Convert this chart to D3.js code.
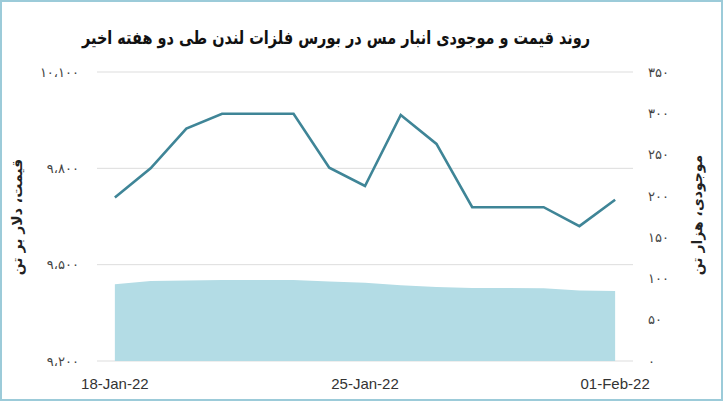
<!DOCTYPE html>
<html>
<head>
<meta charset="utf-8">
<script src="https://cdn.jsdelivr.net/npm/d3@7"></script>
<style>
  body { margin:0; background:#fff; }
  svg { display:block; }
</style>
</head>
<body>
<div id="chart"></div>
<script>
// daily points, 18 Jan -> 01 Feb 2022
const dates = ["18-Jan-22","19-Jan-22","20-Jan-22","21-Jan-22","22-Jan-22","23-Jan-22","24-Jan-22",
  "25-Jan-22","26-Jan-22","27-Jan-22","28-Jan-22","29-Jan-22","30-Jan-22","31-Jan-22","01-Feb-22"];
const shownDates = ["18-Jan-22","25-Jan-22","01-Feb-22"];
// copper price, USD per tonne (left axis)
const price = [9709,9800,9924,9970,9970,9970,9802,9745,9966,9876,9679,9679,9679,9620,9702];
// LME copper stocks, thousand tonnes (right axis)
const stock = [93,97,97.4,98.2,98.2,98.2,96.2,94.9,91.7,89.6,88.4,88.4,88,85.5,84.7];
const priceTicks = [9200,9500,9800,10100];
const stockTicks = [0,50,100,150,200,250,300,350];

const title = "روند قیمت و موجودی انبار مس در بورس فلزات لندن طی دو هفته اخیر";
const leftTitle = "قیمت، دلار بر تن";
const rightTitle = "موجودی، هزار تن";

const W = 724, H = 402;
const fa = "DejaVu Sans";

function toFa(n){
  // persian digits, arabic comma as thousands separator
  return d3.format(",")(n).replace(/,/g,"،").replace(/\d/g, d => "۰۱۲۳۴۵۶۷۸۹"[+d]);
}

const svg = d3.select("#chart").append("svg")
  .attr("width", W).attr("height", H);

// frame
svg.append("rect")
  .attr("x",1).attr("y",1).attr("width",W-3).attr("height",H-3)
  .attr("fill","none").attr("stroke","#9ccbd9").attr("stroke-width",2);

const x = d3.scaleBand().domain(dates).range([97,633]);
const yL = d3.scaleLinear().domain([9200,10100]).range([361,72]);
const yR = d3.scaleLinear().domain([0,350]).range([361,72]);

// gridlines
svg.append("g").selectAll("line")
  .data(priceTicks)
  .enter().append("line")
  .attr("x1",97).attr("x2",633)
  .attr("y1",d=>yL(d)).attr("y2",d=>yL(d))
  .attr("stroke","#dddddd").attr("stroke-width",1);

// stock area
const cx = d => x(d) + x.bandwidth()/2;
const area = d3.area()
  .x((d,i)=>cx(dates[i]))
  .y0(yR(0))
  .y1(d=>yR(d));
svg.append("path")
  .datum(stock)
  .attr("d", area)
  .attr("fill","#b3dce5");

// price line
const line = d3.line()
  .x((d,i)=>cx(dates[i]))
  .y(d=>yL(d));
svg.append("path")
  .datum(price)
  .attr("d", line)
  .attr("fill","none")
  .attr("stroke","#3f8597")
  .attr("stroke-width",2.6)
  .attr("stroke-linejoin","miter");

// left axis
const axL = svg.append("g")
  .attr("transform","translate(79,0)")
  .call(d3.axisLeft(yL).tickValues(priceTicks).tickSize(0).tickPadding(0).tickFormat(toFa));
axL.select(".domain").remove();
axL.selectAll("text").attr("font-family",fa).attr("font-size",13).attr("fill","#444")
  .attr("direction","ltr");

// right axis
const axR = svg.append("g")
  .attr("transform","translate(648,0)")
  .call(d3.axisRight(yR).tickValues(stockTicks).tickSize(0).tickPadding(0).tickFormat(toFa));
axR.select(".domain").remove();
axR.selectAll("text").attr("font-family",fa).attr("font-size",13).attr("fill","#444");

// x axis labels
const axX = svg.append("g")
  .attr("transform","translate(0,372)")
  .call(d3.axisBottom(x).tickValues(shownDates).tickSize(0).tickPadding(6));
axX.select(".domain").remove();
axX.selectAll("text").attr("font-family","Liberation Sans").attr("font-size",15).attr("fill","#333");

// title
svg.append("text")
  .attr("x",336).attr("y",44)
  .attr("text-anchor","middle")
  .attr("direction","rtl")
  .attr("font-family",fa).attr("font-weight","bold").attr("font-size",18)
  .attr("textLength",508).attr("lengthAdjust","spacingAndGlyphs")
  .attr("fill","#111")
  .text(title);

// axis titles (both read bottom-up)
svg.append("text")
  .attr("transform","translate(22,217) rotate(-90)")
  .attr("text-anchor","middle").attr("direction","rtl")
  .attr("font-family",fa).attr("font-weight","bold").attr("font-size",14).attr("fill","#222")
  .text(leftTitle);
svg.append("text")
  .attr("transform","translate(702,215) rotate(-90)")
  .attr("text-anchor","middle").attr("direction","rtl")
  .attr("font-family",fa).attr("font-weight","bold").attr("font-size",14).attr("fill","#222")
  .text(rightTitle);
</script>
</body>
</html>
